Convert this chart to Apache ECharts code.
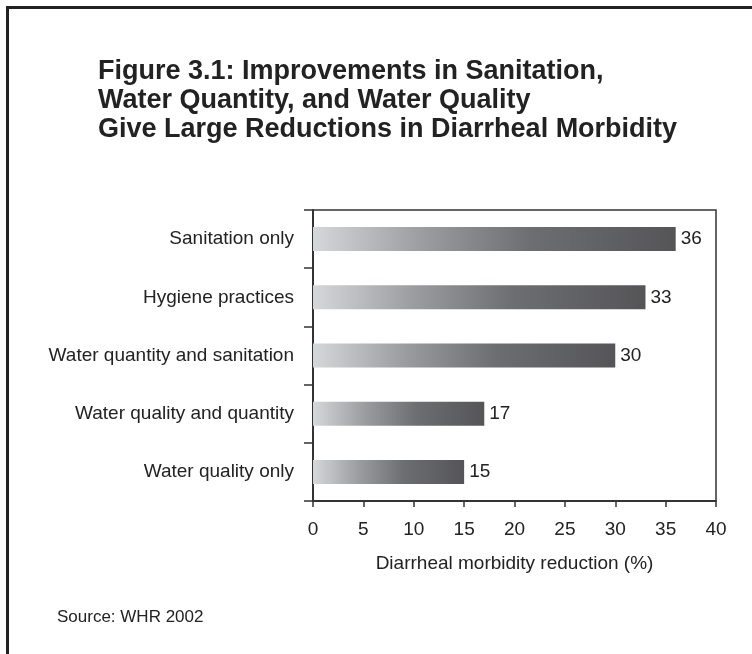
<!DOCTYPE html>
<html>
<head>
<meta charset="utf-8">
<script src="https://cdn.jsdelivr.net/npm/echarts@6/dist/echarts.min.js"></script>
<style>
  html, body { margin: 0; padding: 0; background: #fff; }
  #chart { width: 752px; height: 654px; }
</style>
</head>
<body>
<div id="chart"></div>
<script>
// Interventions, top to bottom
const categories = [
  'Sanitation only',
  'Hygiene practices',
  'Water quantity and sanitation',
  'Water quality and quantity',
  'Water quality only'
];
// Reduction in diarrheal morbidity, percent
const reductions = [36, 33, 30, 17, 15];
// Value axis ticks
const xTicks = [0, 5, 10, 15, 20, 25, 30, 35, 40];

const titleLines = [
  'Figure 3.1: Improvements in Sanitation,',
  'Water Quantity, and Water Quality',
  'Give Large Reductions in Diarrheal Morbidity'
];
const sourceNote = 'Source: WHR 2002';

const FONT = '"Liberation Sans", Arial, Helvetica, sans-serif';
const INK = '#222222';

const chart = echarts.init(document.getElementById('chart'), null, { renderer: 'canvas' });

// Each bar shades from pale grey at its base to charcoal at its tip
const barFill = new echarts.graphic.LinearGradient(0, 0, 1, 0, [
  { offset: 0, color: '#d6d7d9' },
  { offset: 0.3, color: '#9c9da0' },
  { offset: 0.6, color: '#6d6e71' },
  { offset: 1, color: '#555558' }
]);

chart.setOption({
  backgroundColor: '#ffffff',
  animation: false,
  title: {
    text: titleLines.join('\n'),
    left: 93,
    top: 52,
    textStyle: {
      fontFamily: FONT,
      fontWeight: 'bold',
      fontSize: 27,
      lineHeight: 29,
      color: INK
    }
  },
  grid: {
    left: 313,
    right: 36,
    top: 210,
    bottom: 153,
    show: true,
    borderColor: '#333333',
    borderWidth: 1.5,
    backgroundColor: 'transparent'
  },
  xAxis: {
    type: 'value',
    min: xTicks[0],
    max: xTicks[xTicks.length - 1],
    interval: xTicks[1] - xTicks[0],
    name: 'Diarrheal morbidity reduction (%)',
    nameLocation: 'middle',
    nameGap: 53,
    nameTextStyle: { fontFamily: FONT, fontSize: 19, color: INK },
    axisLine: { show: true, lineStyle: { color: '#333333', width: 2 } },
    axisTick: { show: true, length: 6, lineStyle: { color: '#333333', width: 1.5 } },
    axisLabel: { fontFamily: FONT, fontSize: 19, color: INK, margin: 19 },
    splitLine: { show: false }
  },
  yAxis: {
    type: 'category',
    data: categories,
    inverse: true,
    axisLine: { show: true, lineStyle: { color: '#333333', width: 2 } },
    axisTick: { show: true, length: 9, lineStyle: { color: '#333333', width: 1.5 } },
    axisLabel: { fontFamily: FONT, fontSize: 19, color: INK, margin: 19 },
    splitLine: { show: false }
  },
  series: [{
    type: 'bar',
    data: reductions,
    barWidth: 24,
    itemStyle: { color: barFill },
    label: {
      show: true,
      position: 'right',
      distance: 5,
      fontFamily: FONT,
      fontSize: 19,
      color: INK
    }
  }],
  graphic: [
    {
      type: 'rect',
      shape: { x: 7.5, y: 7.5, width: 900, height: 900 },
      style: { fill: null, stroke: '#222222', lineWidth: 3 },
      silent: true
    },
    {
      type: 'text',
      left: 57,
      top: 609,
      style: {
        text: sourceNote,
        fontFamily: FONT,
        fontSize: 17,
        fill: INK
      }
    }
  ]
});
</script>
</body>
</html>
